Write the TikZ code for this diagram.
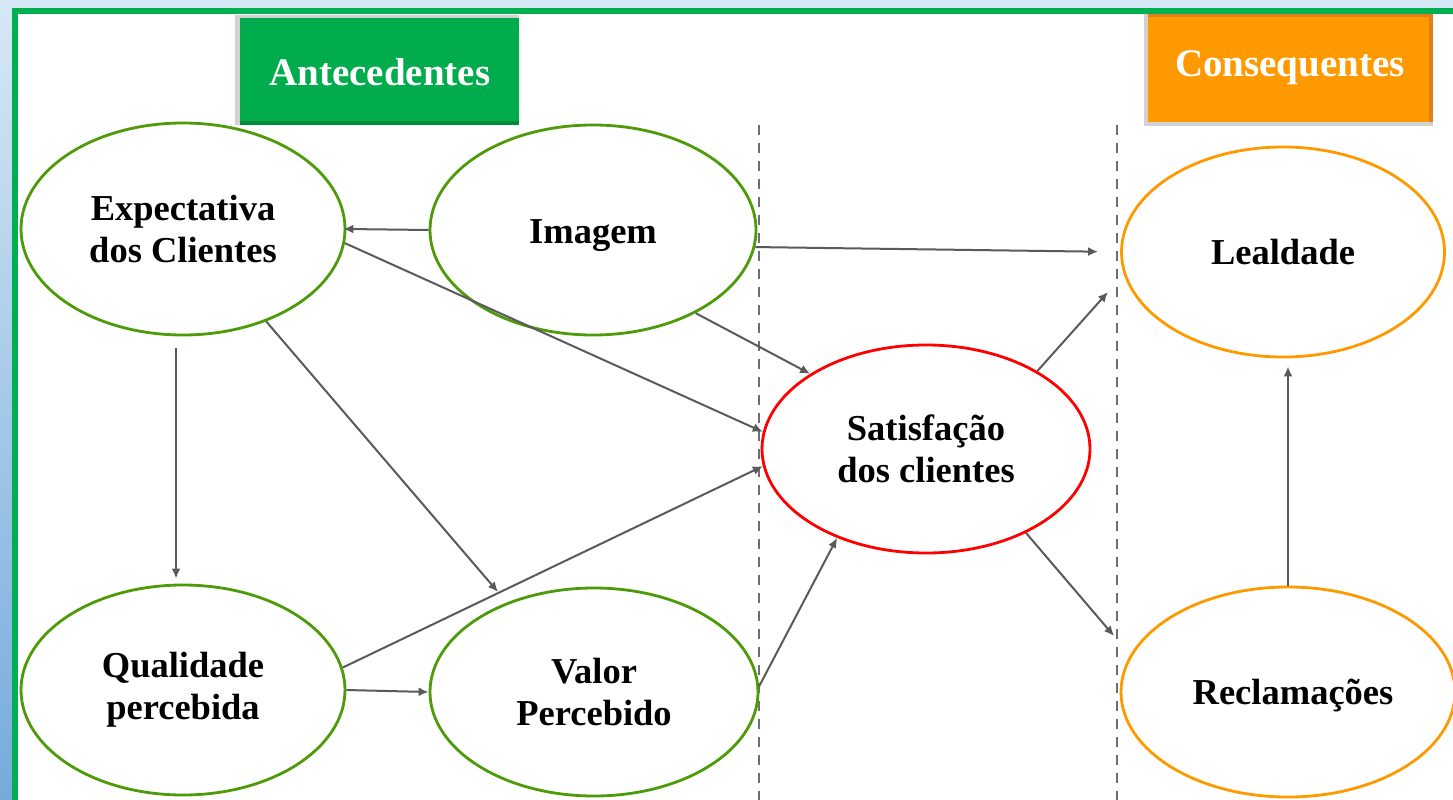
\documentclass[tikz,border=0pt]{standalone}
\usepackage{fontspec}
\setmainfont{Liberation Serif}
\usetikzlibrary{shapes.geometric,arrows.meta}

\definecolor{bgtop}{RGB}{214,232,245}
\definecolor{bgbot}{RGB}{118,170,220}
\definecolor{framegreen}{RGB}{0,176,80}
\definecolor{antegreen}{RGB}{0,172,76}
\definecolor{antedark}{RGB}{0,140,55}
\definecolor{consorange}{RGB}{255,153,0}
\definecolor{consdark}{RGB}{222,128,30}
\definecolor{shadowgray}{RGB}{212,210,208}
\definecolor{ellgreen}{RGB}{78,155,10}
\definecolor{ellred}{RGB}{255,0,0}
\definecolor{ellorange}{RGB}{255,153,0}
\definecolor{arrgray}{RGB}{90,90,90}
\definecolor{dashgray}{RGB}{110,110,110}

\tikzset{
  hdr/.style={inner sep=0pt, text=white, font=\bfseries\fontsize{39}{44}\selectfont},
  ell/.style={ellipse, draw, line width=2.8pt, inner sep=0pt, align=center,
    font=\bfseries\fontsize{36.5}{42}\selectfont},
  antec/.style={ell, draw=ellgreen},
  central/.style={ell, draw=ellred},
  conseq/.style={ell, draw=ellorange},
  conn/.style={draw=arrgray, line width=2pt, -{Latex[length=10pt,width=9pt]}},
  divider/.style={draw=dashgray, line width=2.5pt, dash pattern=on 10pt off 8pt}
}

\begin{document}
\begin{tikzpicture}[x=1pt,y=-1pt]
\useasboundingbox (0,0) rectangle (1453,800);

% backdrop and framed panel
\shade[top color=bgtop, bottom color=bgbot] (0,0) rectangle (1453,800);
\fill[framegreen] (12,8) rectangle (1453,800);
\fill[white] (18,14) rectangle (1453,800);

% header boxes
\fill[shadowgray] (235,15) rectangle (519,125);
\fill[antegreen] (240,18) rectangle (519,125);
\fill[antedark] (240,121) rectangle (519,125);
\node[hdr] (ante) at (380,72) {Antecedentes};

\fill[shadowgray] (1144,14) rectangle (1433,126);
\fill[consorange] (1148,14) rectangle (1433,122);
\fill[consdark] (1148,14) rectangle (1433,17);
\fill[consdark] (1429,14) rectangle (1433,122);
\node[hdr] (cons) at (1290,68) {Consequentes};

% section dividers
\coordinate (d1top) at (759,125);
\coordinate (d1bot) at (759,800);
\coordinate (d2top) at (1117,125);
\coordinate (d2bot) at (1117,800);
\draw[divider] (d1top) -- (d1bot);
\draw[divider] (d2top) -- (d2bot);

% constructs
\node[antec, minimum width=324pt, minimum height=212pt] (exp) at (183,229) {Expectativa\\dos Clientes};
\node[antec, minimum width=326pt, minimum height=210pt, text height=34pt, text depth=8pt] (img) at (593,230) {Imagem};
\node[antec, minimum width=324pt, minimum height=210pt] (qual) at (183,690) {Qualidade\\percebida};
\node[antec, minimum width=328pt, minimum height=208pt] (val) at (594,692) {Valor\\Percebido};
\node[central, minimum width=328pt, minimum height=208pt] (sat) at (926,449) {Satisfação\\dos clientes};
\node[conseq, minimum width=323pt, minimum height=210pt] (lea) at (1283,252) {Lealdade};
\node[conseq, minimum width=334pt, minimum height=210pt, text height=33pt, text depth=8pt] (rec) at (1288,692) {\hspace*{10pt}Reclamações};

% free arrow tips
\coordinate (tipLea) at (1108,292);
\coordinate (tipRec) at (1114,636);
\coordinate (tipVal) at (498,592);

% relations
\draw[conn, shorten >=-3pt] (img.west) -- (exp.east);
\draw[conn] (exp.-5) -- (sat.174);
\draw[conn] (img.-39) -- (sat.147);
\draw[conn, shorten >=22pt] (img.-6) -- (lea.west);
\draw[conn] (sat.35) -- (tipLea);
\draw[conn] (sat.-40) -- (tipRec);
\draw[conn, shorten >=8pt] (rec.north) -- (rec.north |- lea.south);
\draw[conn, shorten <=12pt, shorten >=5pt] ([xshift=-7pt]exp.south) -- ([xshift=-7pt]qual.north);
\draw[conn] (exp.-48) -- (tipVal);
\draw[conn] (qual.8) -- (sat.186);
\draw[conn] (qual.east) -- (val.west);
\draw[conn] (val.2) -- (sat.-135);
\end{tikzpicture}
\end{document}
